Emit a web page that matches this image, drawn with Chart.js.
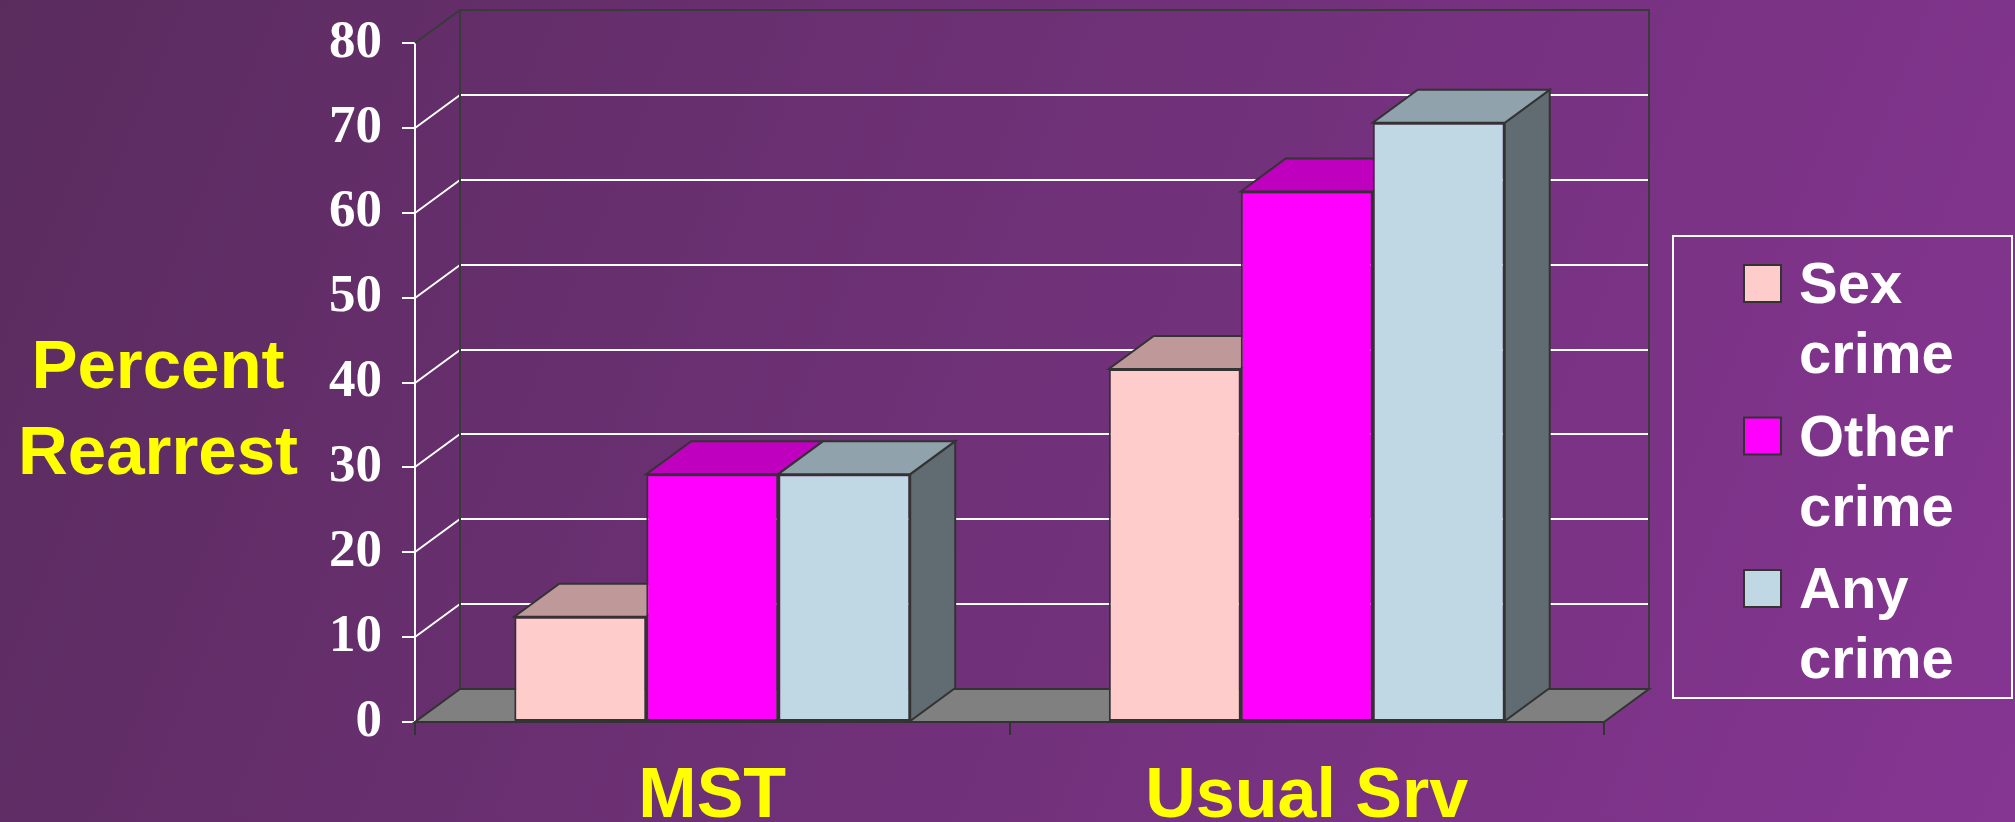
<!DOCTYPE html>
<html>
<head>
<meta charset="utf-8">
<title>Percent Rearrest</title>
<script src="https://cdn.jsdelivr.net/npm/chart.js@4/dist/chart.umd.min.js"></script>
<style>
  html, body { margin: 0; padding: 0; overflow: hidden; background: #6c3178; }
  #wrap { width: 2015px; height: 822px; }
</style>
</head>
<body>
<div id="wrap"><canvas id="chart" width="2015" height="822"></canvas></div>
<script>
// ---- data ----
const categories = ['MST', 'Usual Srv'];
const sexCrime = [12.4, 41.6];
const otherCrime = [29.2, 62.5];
const anyCrime = [29.2, 70.6];
const seriesNames = ['Sex crime', 'Other crime', 'Any crime'];
const yMin = 0;
const yMax = 80;
const yStep = 10;
const yTitleLines = ['Percent', 'Rearrest'];

// ---- styling ----
const frontColors = ['#FFCCCC', '#FF00FF', '#C0D8E4'];
const topColors = ['#BF9999', '#BF00BF', '#90A2AB'];
const sideColors = ['#7F6666', '#7F007F', '#606C72'];
const edge = '#333333';
const DEPTH = { dx: 45, dy: -33 };

function poly(ctx, pts, fill, stroke, lw) {
  ctx.beginPath();
  ctx.moveTo(pts[0][0], pts[0][1]);
  for (let i = 1; i < pts.length; i++) ctx.lineTo(pts[i][0], pts[i][1]);
  ctx.closePath();
  if (fill) { ctx.fillStyle = fill; ctx.fill(); }
  if (stroke) { ctx.strokeStyle = stroke; ctx.lineWidth = lw || 2; ctx.lineJoin = 'miter'; ctx.stroke(); }
}

// slide background
const backgroundPlugin = {
  id: 'slideBackground',
  beforeDraw(chart) {
    const ctx = chart.ctx;
    const g = ctx.createLinearGradient(0, 0, chart.width, chart.height);
    g.addColorStop(0, '#5A2C5E');
    g.addColorStop(1, '#853592');
    ctx.save();
    ctx.fillStyle = g;
    ctx.fillRect(0, 0, chart.width, chart.height);
    ctx.restore();
  }
};

// back wall, side-wall gridlines, floor, then the top and side faces of the bars
const box3dPlugin = {
  id: 'box3d',
  beforeDatasetsDraw(chart) {
    const ctx = chart.ctx;
    const a = chart.chartArea;
    const y = chart.scales.y;
    const { dx, dy } = DEPTH;
    ctx.save();
    ctx.lineCap = 'butt';
    // gridlines on the back wall and the left wall
    for (let v = yMin + yStep; v < yMax; v += yStep) {
      const py = Math.round(y.getPixelForValue(v));
      ctx.strokeStyle = '#FFFFFF';
      ctx.lineWidth = 2;
      ctx.beginPath();
      ctx.moveTo(a.left + dx, py + dy);
      ctx.lineTo(a.right + dx, py + dy);
      ctx.moveTo(a.left, py);
      ctx.lineTo(a.left + dx, py + dy);
      ctx.stroke();
    }
    // back wall outline
    const topY = Math.round(y.getPixelForValue(yMax));
    const baseY = Math.round(y.getPixelForValue(yMin));
    ctx.strokeStyle = '#3a3a3a';
    ctx.lineWidth = 2;
    ctx.beginPath();
    ctx.moveTo(a.left, topY);
    ctx.lineTo(a.left + dx, topY + dy);
    ctx.lineTo(a.right + dx, topY + dy);
    ctx.lineTo(a.right + dx, baseY + dy);
    ctx.moveTo(a.left + dx, topY + dy);
    ctx.lineTo(a.left + dx, baseY + dy);
    ctx.stroke();
    // floor
    poly(ctx, [[a.left, baseY], [a.right, baseY], [a.right + dx, baseY + dy], [a.left + dx, baseY + dy]], '#808080', edge, 2);

    // bar tops and sides
    chart.data.datasets.forEach((ds, di) => {
      const meta = chart.getDatasetMeta(di);
      if (meta.hidden) return;
      meta.data.forEach((bar) => {
        const p = bar.getProps(['x', 'y', 'base', 'width'], true);
        const l = p.x - p.width / 2, r = p.x + p.width / 2;
        poly(ctx, [[r, p.y], [r + dx, p.y + dy], [r + dx, p.base + dy], [r, p.base]], sideColors[di], edge, 2);
        poly(ctx, [[l, p.y], [r, p.y], [r + dx, p.y + dy], [l + dx, p.y + dy]], topColors[di], edge, 2);
      });
    });
    ctx.restore();
  }
};

// horizontal value-axis title and the boxed legend
const labelsPlugin = {
  id: 'slideLabels',
  afterDraw(chart) {
    const ctx = chart.ctx;
    ctx.save();
    // axis title
    ctx.fillStyle = '#FFFF00';
    ctx.font = 'bold 69px "Liberation Sans", Arial, sans-serif';
    ctx.textAlign = 'center';
    ctx.textBaseline = 'alphabetic';
    yTitleLines.forEach((t, i) => ctx.fillText(t, 158, 388 + i * 86));

    // legend
    ctx.strokeStyle = '#FFFFFF';
    ctx.lineWidth = 2;
    ctx.strokeRect(1673, 236, 339, 462);
    ctx.font = 'bold 58px "Liberation Sans", Arial, sans-serif';
    ctx.textAlign = 'left';
    chart.data.datasets.forEach((ds, i) => {
      const baseY = 303 + i * 152.5;
      poly(ctx, [[1744, baseY - 38], [1781, baseY - 38], [1781, baseY - 1], [1744, baseY - 1]], ds.backgroundColor, edge, 2);
      ctx.fillStyle = '#FFFFFF';
      ds.label.split(' ').forEach((w, k) => ctx.fillText(w, 1799, baseY + k * 70));
    });
    ctx.restore();
  }
};

const datasets = [sexCrime, otherCrime, anyCrime].map((vals, i) => ({
  label: seriesNames[i],
  data: vals,
  backgroundColor: frontColors[i],
  borderColor: edge,
  borderWidth: 2,
  borderSkipped: false,
  categoryPercentage: 0.666,
  barPercentage: 1.0
}));

new Chart(document.getElementById('chart'), {
  type: 'bar',
  data: { labels: categories, datasets },
  plugins: [backgroundPlugin, box3dPlugin, labelsPlugin],
  options: {
    responsive: false,
    animation: false,
    devicePixelRatio: 1,
    layout: { padding: { left: 0, top: 43, right: 411, bottom: 0 } },
    plugins: { legend: { display: false }, tooltip: { enabled: false } },
    scales: {
      x: {
        ticks: {
          color: '#FFFF00',
          font: { family: '"Liberation Sans", Arial, sans-serif', weight: 'bold', size: 70 },
          padding: 21
        },
        grid: { drawOnChartArea: false, drawTicks: true, tickLength: 13, color: edge, lineWidth: 2, offset: true },
        border: { display: true, color: edge, width: 2 },
        afterFit(s) { s.height = 100; s.paddingLeft = 0; s.paddingRight = 0; }
      },
      y: {
        min: yMin,
        max: yMax,
        ticks: {
          stepSize: yStep,
          color: '#FFFFFF',
          font: { family: '"Liberation Serif", "Times New Roman", serif', weight: 'bold', size: 53 },
          padding: 20
        },
        grid: { drawOnChartArea: false, drawTicks: true, tickLength: 13, color: '#FFFFFF', lineWidth: 2 },
        border: { display: true, color: '#FFFFFF', width: 2 },
        afterFit(s) { s.width = 415; s.paddingTop = 0; s.paddingBottom = 0; }
      }
    }
  }
});
</script>
</body>
</html>
